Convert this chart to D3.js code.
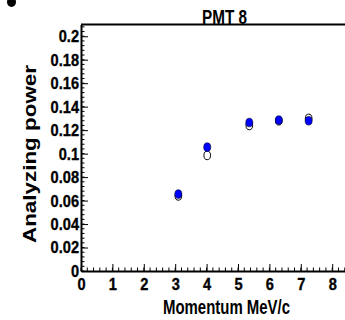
<!DOCTYPE html>
<html>
<head>
<meta charset="utf-8">
<script src="https://cdn.jsdelivr.net/npm/d3@7"></script>
<style>
  body { margin: 0; background: #fff; }
  svg { display: block; }
  text { font-family: "Liberation Sans", Arial, sans-serif; font-weight: bold; fill: #000; }
</style>
</head>
<body>
<div id="chart"></div>
<script>
var width = 345;
var height = 320;

// data
var momentum = [3.1, 4.02, 5.36, 6.3, 7.25];
var powerOpen = [0.064, 0.0985, 0.124, 0.128, 0.130];
var powerBlue = [0.0655, 0.1055, 0.1265, 0.1285, 0.128];
var errBlue = [0.003, 0.002, 0.002, 0.0015, 0.0015];
var xTicks = [0, 1, 2, 3, 4, 5, 6, 7, 8];
var yTicks = [0, 0.02, 0.04, 0.06, 0.08, 0.1, 0.12, 0.14, 0.16, 0.18, 0.2];

var x = d3.scaleLinear().domain([0, 8.5]).range([81, 81 + 8.5 * 31.4]);
var y = d3.scaleLinear().domain([0, 0.21]).range([271, 24.5]);

var svg = d3.select("#chart")
  .append("svg")
  .attr("width", width)
  .attr("height", height);

// frame top line
svg.append("line")
  .attr("x1", x(0)).attr("x2", x(8.5))
  .attr("y1", y(0.21)).attr("y2", y(0.21))
  .attr("stroke", "#000").attr("stroke-width", 2);

// minor ticks
var xMinor = d3.range(0, 8.5, 0.2);
var yMinor = d3.range(0, 0.2101, 0.004);

svg.append("g")
  .selectAll("line")
  .data(xMinor)
  .enter()
  .append("line")
  .attr("x1", function (d) { return x(d); })
  .attr("x2", function (d) { return x(d); })
  .attr("y1", y(0))
  .attr("y2", y(0) - 3.5)
  .attr("stroke", "#000").attr("stroke-width", 1);

svg.append("g")
  .selectAll("line")
  .data(yMinor)
  .enter()
  .append("line")
  .attr("x1", x(0))
  .attr("x2", x(0) + 3.5)
  .attr("y1", function (d) { return y(d); })
  .attr("y2", function (d) { return y(d); })
  .attr("stroke", "#000").attr("stroke-width", 1);

// major axes
var xAxis = d3.axisBottom(x)
  .tickValues(xTicks)
  .tickFormat(d3.format("d"))
  .tickSize(-7)
  .tickSizeOuter(0)
  .tickPadding(7);

var yAxis = d3.axisLeft(y)
  .tickValues(yTicks)
  .tickFormat(function (d) { return d === 0 ? "0" : String(+d.toFixed(2)); })
  .tickSize(-7)
  .tickSizeOuter(0)
  .tickPadding(2);

var gx = svg.append("g")
  .attr("transform", "translate(0," + y(0) + ")")
  .call(xAxis);

var gy = svg.append("g")
  .attr("transform", "translate(" + x(0) + ",0)")
  .call(yAxis);

[gx, gy].forEach(function (g) {
  g.select(".domain").attr("stroke", "#000").attr("stroke-width", 2);
  g.selectAll(".tick line").attr("stroke", "#000").attr("stroke-width", 1);
  g.selectAll(".tick text")
    .attr("font-family", null)
    .attr("font-size", null)
    .style("font-size", "17px")
    .attr("fill", "#000")
    .attr("stroke", "#000")
    .attr("stroke-width", 0.35);
});
// narrow the tick labels a little
gx.selectAll(".tick text")
  .attr("transform", "scale(0.86,1)")
  .attr("x", 0);
gy.selectAll(".tick text")
  .attr("transform", "scale(0.86,1)")
  .attr("x", -2 / 0.86);

// titles
svg.append("text")
  .attr("x", 224.5).attr("y", 23.5)
  .attr("text-anchor", "middle")
  .attr("textLength", 45)
  .attr("lengthAdjust", "spacingAndGlyphs")
  .style("font-size", "20px")
  .text("PMT 8");

svg.append("text")
  .attr("x", 226.5).attr("y", 314)
  .attr("text-anchor", "middle")
  .attr("textLength", 127)
  .attr("lengthAdjust", "spacingAndGlyphs")
  .style("font-size", "20px")
  .text("Momentum MeV/c");

svg.append("text")
  .attr("transform", "translate(36,154) rotate(-90)")
  .attr("text-anchor", "middle")
  .attr("textLength", 178)
  .attr("lengthAdjust", "spacingAndGlyphs")
  .style("font-size", "19px")
  .text("Analyzing power");

// stray marker in the corner
svg.append("ellipse")
  .attr("cx", 11.5).attr("cy", 2)
  .attr("rx", 4.5).attr("ry", 5)
  .attr("fill", "#000");

// open circles
svg.append("g")
  .selectAll("ellipse")
  .data(momentum)
  .enter()
  .append("ellipse")
  .attr("cx", function (d) { return x(d); })
  .attr("cy", function (d, i) { return y(powerOpen[i]); })
  .attr("rx", 3.3).attr("ry", 4.3)
  .attr("fill", "#fff")
  .attr("stroke", "#000").attr("stroke-width", 1);

// blue error bars
svg.append("g")
  .selectAll("line")
  .data(momentum)
  .enter()
  .append("line")
  .attr("x1", function (d) { return x(d); })
  .attr("x2", function (d) { return x(d); })
  .attr("y1", function (d, i) { return y(powerBlue[i] - errBlue[i]); })
  .attr("y2", function (d, i) { return y(powerBlue[i] + errBlue[i]); })
  .attr("stroke", "#000").attr("stroke-width", 1.5);

// blue filled circles
svg.append("g")
  .selectAll("ellipse")
  .data(momentum)
  .enter()
  .append("ellipse")
  .attr("cx", function (d) { return x(d); })
  .attr("cy", function (d, i) { return y(powerBlue[i]); })
  .attr("rx", 3.5).attr("ry", 4.3)
  .attr("fill", "#0000ff")
  .attr("stroke", "#000022").attr("stroke-width", 0.6);
</script>
</body>
</html>
